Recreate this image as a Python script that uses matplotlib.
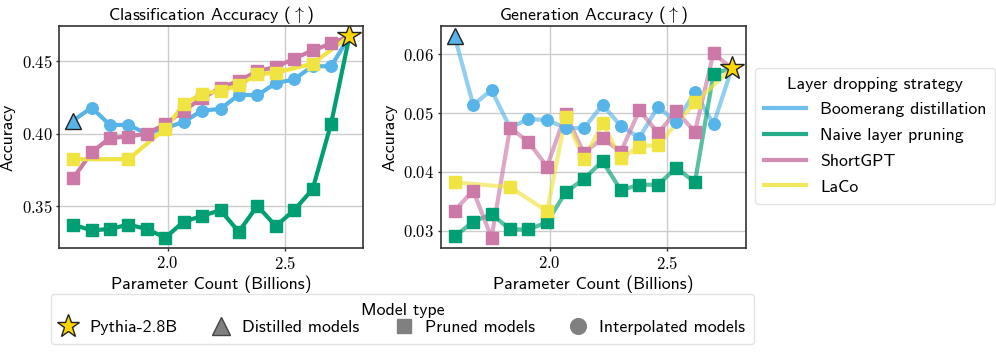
import matplotlib
matplotlib.use("Agg")
import matplotlib.pyplot as plt
from matplotlib.lines import Line2D
from matplotlib.ticker import MultipleLocator, FuncFormatter

plt.rcParams['font.family'] = ['cmss10', 'DejaVu Sans']
plt.rcParams['mathtext.fontset'] = 'cm'
plt.rcParams['axes.unicode_minus'] = False

# parameter counts (billions)
params = [1.596, 1.675, 1.753, 1.832, 1.910, 1.989, 2.068, 2.146,
          2.225, 2.303, 2.382, 2.461, 2.539, 2.618, 2.697, 2.775]
laco_params = [1.596, 1.832, 1.989, 2.068, 2.146, 2.225, 2.303, 2.382,
               2.461, 2.618, 2.775]

# classification accuracy
boom_cls = [0.409, 0.418, 0.406, 0.406, 0.400, 0.404, 0.408, 0.416,
            0.417, 0.427, 0.4265, 0.435, 0.4375, 0.4468, 0.4465, 0.4675]
naive_cls = [0.337, 0.333, 0.334, 0.337, 0.334, 0.328, 0.339, 0.343,
             0.347, 0.332, 0.350, 0.336, 0.347, 0.3615, 0.407, 0.4675]
shortgpt_cls = [0.369, 0.387, 0.397, 0.398, 0.400, 0.4065, 0.416, 0.4244,
                0.4318, 0.4364, 0.4433, 0.4461, 0.4519, 0.4576, 0.4624, 0.4675]
laco_cls = [0.3823, 0.3823, 0.4035, 0.4203, 0.4277, 0.4295, 0.4335, 0.441,
            0.4422, 0.4484, 0.4675]

# generation accuracy
boom_gen = [0.0631, 0.0514, 0.0539, 0.0475, 0.0490, 0.0488, 0.0475, 0.0474,
            0.0514, 0.0478, 0.0458, 0.0511, 0.0484, 0.0536, 0.0481, 0.0576]
naive_gen = [0.0290, 0.0315, 0.0328, 0.0302, 0.0302, 0.0314, 0.0365, 0.0388,
             0.0418, 0.0369, 0.0378, 0.0378, 0.0407, 0.0382, 0.0567, 0.0576]
shortgpt_gen = [0.0334, 0.0368, 0.0288, 0.0475, 0.0451, 0.0409, 0.0498, 0.0432,
                0.0457, 0.0434, 0.0505, 0.0466, 0.0503, 0.0468, 0.0602, 0.0576]
laco_gen = [0.0382, 0.0374, 0.0333, 0.0493, 0.0421, 0.0483, 0.0423, 0.0443,
            0.0446, 0.0518, 0.0576]

strategies = ['Boomerang distillation', 'Naive layer pruning', 'ShortGPT', 'LaCo']
colors = ['#56B4E9', '#009E73', '#CC79A7', '#F0E442']
star_color = '#FFD700'
FS = 12.8

fig = plt.figure(figsize=(9.96, 3.59), dpi=100)
ax1 = fig.add_axes([0.0595, 0.310, 0.3052, 0.6175])
ax2 = fig.add_axes([0.4425, 0.310, 0.3062, 0.6175])


def draw_panel(ax, boom, naive, shortgpt, laco, line_alpha, title, ystep):
    ax.set_axisbelow(True)
    ax.grid(True, color='#cccccc', linewidth=1.0)
    lw = 3.0
    ms = 8.3
    # boomerang: distilled model (triangle) at start, interpolated circles in between
    ax.plot(params, boom, color=colors[0], lw=lw, alpha=line_alpha, zorder=2)
    ax.plot(params[1:-1], boom[1:-1], 'o', color=colors[0], ms=ms, zorder=3)
    ax.plot(params, naive, color=colors[1], lw=lw, alpha=line_alpha, zorder=2)
    ax.plot(params[:-1], naive[:-1], 's', color=colors[1], ms=ms, zorder=3)
    ax.plot(params, shortgpt, color=colors[2], lw=lw, alpha=line_alpha, zorder=2)
    ax.plot(params[:-1], shortgpt[:-1], 's', color=colors[2], ms=ms, zorder=3)
    ax.plot(laco_params, laco, color=colors[3], lw=lw, alpha=line_alpha, zorder=2)
    ax.plot(laco_params[:-1], laco[:-1], 's', color=colors[3], ms=ms, zorder=3)
    ax.plot(params[0], boom[0], '^', color=colors[0], mec='#222222', mew=1.0,
            ms=11.5, zorder=5)
    ax.plot(params[-1], boom[-1], '*', color=star_color, mec='#222222', mew=1.0,
            ms=17.5, zorder=6)

    ax.set_title(title + r' ($\uparrow$)', fontsize=FS, pad=4)
    ax.set_xlabel('Parameter Count (Billions)', fontsize=FS, labelpad=3)
    ax.set_ylabel('Accuracy', fontsize=FS, labelpad=4)
    ax.xaxis.set_major_locator(MultipleLocator(0.5))
    ax.yaxis.set_major_locator(MultipleLocator(ystep))
    ax.xaxis.set_major_formatter(FuncFormatter(lambda v, _: f'${v:.1f}$'))
    ax.yaxis.set_major_formatter(FuncFormatter(lambda v, _: f'${v:.2f}$'))
    ax.tick_params(labelsize=12, length=2.5, width=1.0, color='#333333', pad=2.4)
    for s in ax.spines.values():
        s.set_color('#333333')
        s.set_linewidth(1.2)


draw_panel(ax1, boom_cls, naive_cls, shortgpt_cls, laco_cls, 1.0,
           'Classification Accuracy', 0.05)
draw_panel(ax2, boom_gen, naive_gen, shortgpt_gen, laco_gen, 0.65,
           'Generation Accuracy', 0.01)

# strategy legend
strat_handles = [Line2D([], [], color=c, lw=3, alpha=0.85) for c in colors]
fig.legend(strat_handles, strategies, title='Layer dropping strategy',
           loc='upper left', bbox_to_anchor=(0.758, 0.8114), fontsize=FS,
           title_fontsize=FS, frameon=True, edgecolor='#dddddd',
           handlelength=2.36, handletextpad=0.8, labelspacing=0.58,
           borderpad=0.5, borderaxespad=0, fancybox=True)

# model type legend
gray = '#808080'
type_handles = [
    Line2D([], [], marker='*', ls='none', color=star_color, mec='#222222',
           mew=1.0, ms=17),
    Line2D([], [], marker='^', ls='none', color=gray, mec='#444444', ms=12.5),
    Line2D([], [], marker='s', ls='none', color=gray, ms=10.4),
    Line2D([], [], marker='o', ls='none', color=gray, ms=11.3),
]
type_labels = ['Pythia-2.8B', 'Distilled models', 'Pruned models', 'Interpolated models']
fig.legend(type_handles, type_labels, title='Model type', loc='upper center',
           bbox_to_anchor=(0.4041, 0.180), ncol=4, fontsize=FS,
           title_fontsize=FS, frameon=True, edgecolor='#dddddd',
           handlelength=1.0, handletextpad=0.68, columnspacing=1.97,
           borderpad=0.5, labelspacing=0.1, borderaxespad=0, fancybox=True)

fig.savefig('out.png', dpi=100)
